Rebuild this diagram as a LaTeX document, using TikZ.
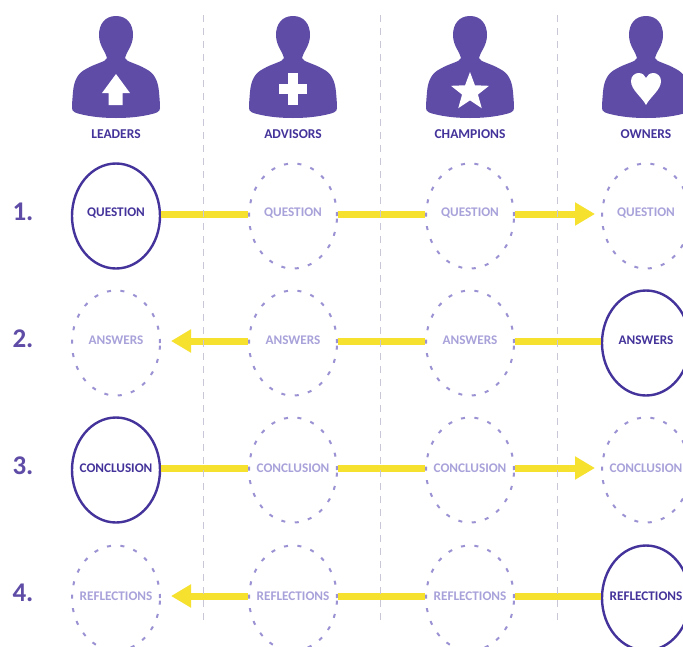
\documentclass[tikz,border=0pt]{standalone}
\usepackage{fontspec}
\setmainfont{Carlito}
\usetikzlibrary{shapes.geometric,arrows.meta}
\definecolor{purp}{HTML}{5F4CA6}
\definecolor{darkp}{HTML}{43339A}
\definecolor{lightp}{HTML}{A8A2DA}
\definecolor{dashp}{HTML}{9A92D2}
\definecolor{yel}{HTML}{F5E12E}
\definecolor{grid}{HTML}{C9C6D8}
\tikzset{
  x=1pt,y=-1pt,
  stepcirc/.style={ellipse,minimum width=88pt,minimum height=105pt,inner sep=0pt},
  lead/.style={stepcirc,draw=darkp,line width=2.4pt,fill=white},
  idle/.style={stepcirc,draw=dashp,line width=2pt,dash pattern=on 4pt off 9.5pt},
  strong/.style={text=darkp,font=\bfseries\fontsize{13.2}{15}\selectfont},
  faint/.style={text=lightp,font=\bfseries\fontsize{13.2}{15}\selectfont},
  role/.style={text=darkp,font=\bfseries\fontsize{13.5}{15}\selectfont},
  rownum/.style={text=purp,font=\bfseries\fontsize{27}{30}\selectfont},
  flow/.style={draw=yel,line width=7pt},
  flowtip/.style={flow,-{Triangle[length=20pt,width=22pt]}},
  divider/.style={draw=grid,line width=0.8pt,dash pattern=on 7pt off 6pt},
  person/.pic={
    \fill[purp] (0,16) .. controls (11,16) and (17,24) .. (17,35)
      .. controls (17,46) and (10,52) .. (9,58)
      .. controls (10,62) and (20,63) .. (30,69)
      .. controls (38,73) and (42,80) .. (43,92)
      .. controls (43.5,98) and (44,103) .. (44,108)
      .. controls (44,112) and (40,113) .. (36,114)
      .. controls (24,117) and (12,118) .. (0,118)
      .. controls (-12,118) and (-24,117) .. (-36,114)
      .. controls (-40,113) and (-44,112) .. (-44,108)
      .. controls (-44,103) and (-43.5,98) .. (-43,92)
      .. controls (-42,80) and (-38,73) .. (-30,69)
      .. controls (-20,63) and (-10,62) .. (-9,58)
      .. controls (-10,52) and (-17,46) .. (-17,35)
      .. controls (-17,24) and (-11,16) .. (0,16) -- cycle;
  }
}
\begin{document}
\begin{tikzpicture}
\clip (0,0) rectangle (683,646);
\fill[white] (0,0) rectangle (683,646);
% people
\pic at (116,0) {person};
\pic at (293,0) {person};
\pic at (470,0) {person};
\pic at (646,0) {person};
\fill[white] (116,74) -- (130,93) -- (122.5,93) -- (122.5,105) -- (108.5,105) -- (108.5,93) -- (102,93) -- cycle;
\fill[white] (288,73) rectangle (298,105);
\fill[white] (279,84) rectangle (307,94);
\node[star,star points=5,star point ratio=2.4,minimum size=40pt,inner sep=0pt,fill=white] (starmark) at (470,92) {};
\fill[white] (646,105) .. controls (642,97) and (631,90) .. (631,81)
  .. controls (631,76) and (635,73) .. (638.5,73)
  .. controls (642,73) and (645,75) .. (646,78)
  .. controls (647,75) and (650,73) .. (653.5,73)
  .. controls (657,73) and (661,76) .. (661,81)
  .. controls (661,90) and (650,97) .. (646,105) -- cycle;
\node[role] (leaders) at (116,134) {LEADERS};
\node[role] (advisors) at (293,134) {ADVISORS};
\node[role] (champions) at (470,134) {CHAMPIONS};
\node[role] (owners) at (646,134) {OWNERS};
% row numbers
\node[rownum] (n1) at (23,212) {1.};
\node[rownum] (n2) at (23,339) {2.};
\node[rownum] (n3) at (23,466) {3.};
\node[rownum] (n4) at (23,593) {4.};
% row 1
\node[lead,label={[strong,yshift=3pt]center:QUESTION}] (a1) at (116,216) {};
\node[idle,label={[faint,yshift=3pt]center:QUESTION}] (b1) at (293,216) {};
\node[idle,label={[faint,yshift=3pt]center:QUESTION}] (c1) at (470,216) {};
\node[idle,label={[faint,yshift=3pt]center:QUESTION}] (d1) at (646,216) {};
% row 2
\node[idle,label={[faint,yshift=3pt]center:ANSWERS}] (a2) at (116,343) {};
\node[idle,label={[faint,yshift=3pt]center:ANSWERS}] (b2) at (293,343) {};
\node[idle,label={[faint,yshift=3pt]center:ANSWERS}] (c2) at (470,343) {};
\node[lead,label={[strong,yshift=3pt]center:ANSWERS}] (d2) at (646,343) {};
% row 3
\node[lead,label={[strong,yshift=2pt]center:CONCLUSION}] (a3) at (116,470) {};
\node[idle,label={[faint,yshift=2pt]center:CONCLUSION}] (b3) at (293,470) {};
\node[idle,label={[faint,yshift=2pt]center:CONCLUSION}] (c3) at (470,470) {};
\node[idle,label={[faint,yshift=2pt]center:CONCLUSION}] (d3) at (646,470) {};
% row 4
\node[idle,label={[faint,yshift=2pt]center:REFLECTIONS}] (a4) at (116,598) {};
\node[idle,label={[faint,yshift=2pt]center:REFLECTIONS}] (b4) at (293,598) {};
\node[idle,label={[faint,yshift=2pt]center:REFLECTIONS}] (c4) at (470,598) {};
\node[lead,label={[strong,yshift=2pt]center:REFLECTIONS}] (d4) at (646,598) {};
% connectors
\foreach \u/\v in {a1/b1,b1/c1,a3/b3,b3/c3}
  \draw[flow] ([yshift=2pt]\u.east) -- ([yshift=2pt]\v.west);
\foreach \u/\v in {d2/c2,c2/b2,d4/c4,c4/b4}
  \draw[flow] ([yshift=2pt]\u.west) -- ([yshift=2pt]\v.east);
\foreach \u/\v in {c1/d1,c3/d3}
  \draw[flowtip,shorten >=6pt] ([yshift=2pt]\u.east) -- ([yshift=2pt]\v.west);
\foreach \u/\v in {b2/a2,b4/a4}
  \draw[flowtip,shorten >=10pt] ([yshift=2pt]\u.west) -- ([yshift=2pt]\v.east);
% dividers
\coordinate (t1) at (203,15); \coordinate (e1) at (203,625);
\coordinate (t2) at (380,15); \coordinate (e2) at (380,625);
\coordinate (t3) at (557,15); \coordinate (e3) at (557,625);
\draw[divider] (t1) -- (e1);
\draw[divider] (t2) -- (e2);
\draw[divider] (t3) -- (e3);
\end{tikzpicture}
\end{document}
